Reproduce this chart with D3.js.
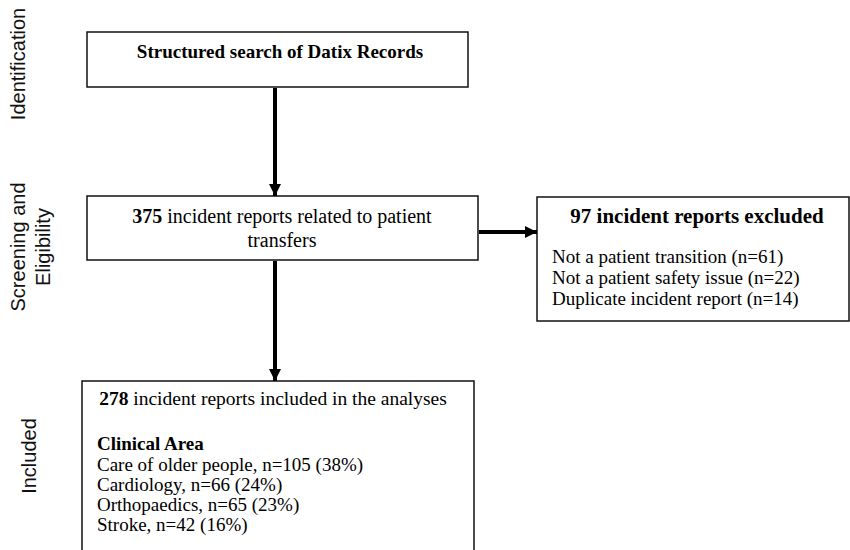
<!DOCTYPE html>
<html>
<head>
<meta charset="utf-8">
<script src="https://cdn.jsdelivr.net/npm/d3@7"></script>
<style>
  body { margin: 0; background: #fff; }
  .serif { font-family: "Liberation Serif", "Times New Roman", serif; }
  .sans { font-family: "Liberation Sans", Arial, sans-serif; }
</style>
</head>
<body>
<div id="viz"></div>
<script>
// stage labels down the left side (one entry per line)
const stageLabels = [
  {lines: ['Identification'], row: 'ident'},
  {lines: ['Screening and', 'Eligibility'], row: 'screen'},
  {lines: ['Included'], row: 'incl'},
];

const searchText = 'Structured search of Datix Records';
const screenedCount = 375;
const screenedText = [' incident reports related to patient', 'transfers'];
const excludedCount = 97;
const exclusionReasons = ['Not a patient transition', 'Not a patient safety issue', 'Duplicate incident report'];
const exclusionCounts = [61, 22, 14];
const includedCount = 278;
const clinicalAreas = ['Care of older people', 'Cardiology', 'Orthopaedics', 'Stroke'];
const clinicalCounts = [105, 66, 65, 42];
const clinicalPct = [38, 24, 23, 16];

const width = 850, height = 550;
const svg = d3.select('#viz').append('svg')
  .attr('width', width).attr('height', height);

// box layout
const boxes = {
  search: {x: 87, y: 32, w: 381, h: 55},
  screen: {x: 87, y: 196, w: 391, h: 64},
  excl: {x: 537, y: 197, w: 312, h: 124},
  incl: {x: 82, y: 381, w: 392, h: 190},
};

// arrowhead
svg.append('defs').append('marker')
  .attr('id', 'head')
  .attr('viewBox', '0 0 10 10')
  .attr('refX', 10).attr('refY', 5)
  .attr('markerUnits', 'userSpaceOnUse')
  .attr('markerWidth', 12).attr('markerHeight', 13)
  .attr('orient', 'auto')
  .append('path').attr('d', 'M0,0L10,5L0,10Z').attr('fill', '#000');

// boxes
svg.append('g').selectAll('rect')
  .data(Object.values(boxes))
  .join('rect')
  .attr('x', d => d.x).attr('y', d => d.y)
  .attr('width', d => d.w).attr('height', d => d.h)
  .attr('fill', '#fff').attr('stroke', '#111').attr('stroke-width', 1.5);

// arrows
const arrows = [
  {x1: 275, y1: boxes.search.y + boxes.search.h + 1, x2: 275, y2: boxes.screen.y},
  {x1: 275, y1: boxes.screen.y + boxes.screen.h + 1, x2: 275, y2: boxes.incl.y},
  {x1: boxes.screen.x + boxes.screen.w + 1, y1: 232, x2: boxes.excl.x, y2: 232},
];
svg.append('g').selectAll('line')
  .data(arrows)
  .join('line')
  .attr('x1', d => d.x1).attr('y1', d => d.y1)
  .attr('x2', d => d.x2).attr('y2', d => d.y2)
  .attr('stroke', '#000').attr('stroke-width', 4)
  .attr('marker-end', 'url(#head)');

// stage labels, rotated
const stageY = {ident: 64, screen: 247, incl: 456};
const stageX = {ident: [25], screen: [25, 50], incl: [36]};
stageLabels.forEach(s => {
  s.lines.forEach((ln, i) => {
    svg.append('text')
      .attr('class', 'sans')
      .attr('transform', `translate(${stageX[s.row][i]},${stageY[s.row]}) rotate(-90)`)
      .attr('text-anchor', 'middle')
      .style('font-size', '20px')
      .attr('fill', '#111')
      .text(ln);
  });
});

// search box
svg.append('text').attr('class', 'serif')
  .attr('x', 280).attr('y', 58)
  .attr('text-anchor', 'middle')
  .style('font-size', '19px').style('font-weight', 'bold')
  .text(searchText);

// screened box
const t2 = svg.append('text').attr('class', 'serif')
  .attr('x', 282).attr('y', 223)
  .attr('text-anchor', 'middle')
  .style('font-size', '20px');
t2.append('tspan').style('font-weight', 'bold').text(screenedCount);
t2.append('tspan').text(screenedText[0]);
svg.append('text').attr('class', 'serif')
  .attr('x', 282).attr('y', 247)
  .attr('text-anchor', 'middle')
  .style('font-size', '20px')
  .text(screenedText[1]);

// excluded box
svg.append('text').attr('class', 'serif')
  .attr('x', 697).attr('y', 223)
  .attr('text-anchor', 'middle')
  .style('font-size', '21px').style('font-weight', 'bold')
  .text(`${excludedCount} incident reports excluded`);
svg.append('g').selectAll('text')
  .data(exclusionReasons)
  .join('text').attr('class', 'serif')
  .attr('x', 552).attr('y', (d, i) => 263 + i * 21)
  .style('font-size', '19px')
  .text((d, i) => `${d} (n=${exclusionCounts[i]})`);

// included box
const t3 = svg.append('text').attr('class', 'serif')
  .attr('x', 273).attr('y', 405)
  .attr('text-anchor', 'middle')
  .style('font-size', '19.5px');
t3.append('tspan').style('font-weight', 'bold').text(includedCount);
t3.append('tspan').text(' incident reports included in the analyses');

svg.append('text').attr('class', 'serif')
  .attr('x', 97).attr('y', 450)
  .style('font-size', '19px').style('font-weight', 'bold')
  .text('Clinical Area');
svg.append('g').selectAll('text')
  .data(clinicalAreas)
  .join('text').attr('class', 'serif')
  .attr('x', 97).attr('y', (d, i) => 471 + i * 20)
  .style('font-size', '19px')
  .text((d, i) => `${d}, n=${clinicalCounts[i]} (${clinicalPct[i]}%)`);
</script>
</body>
</html>
